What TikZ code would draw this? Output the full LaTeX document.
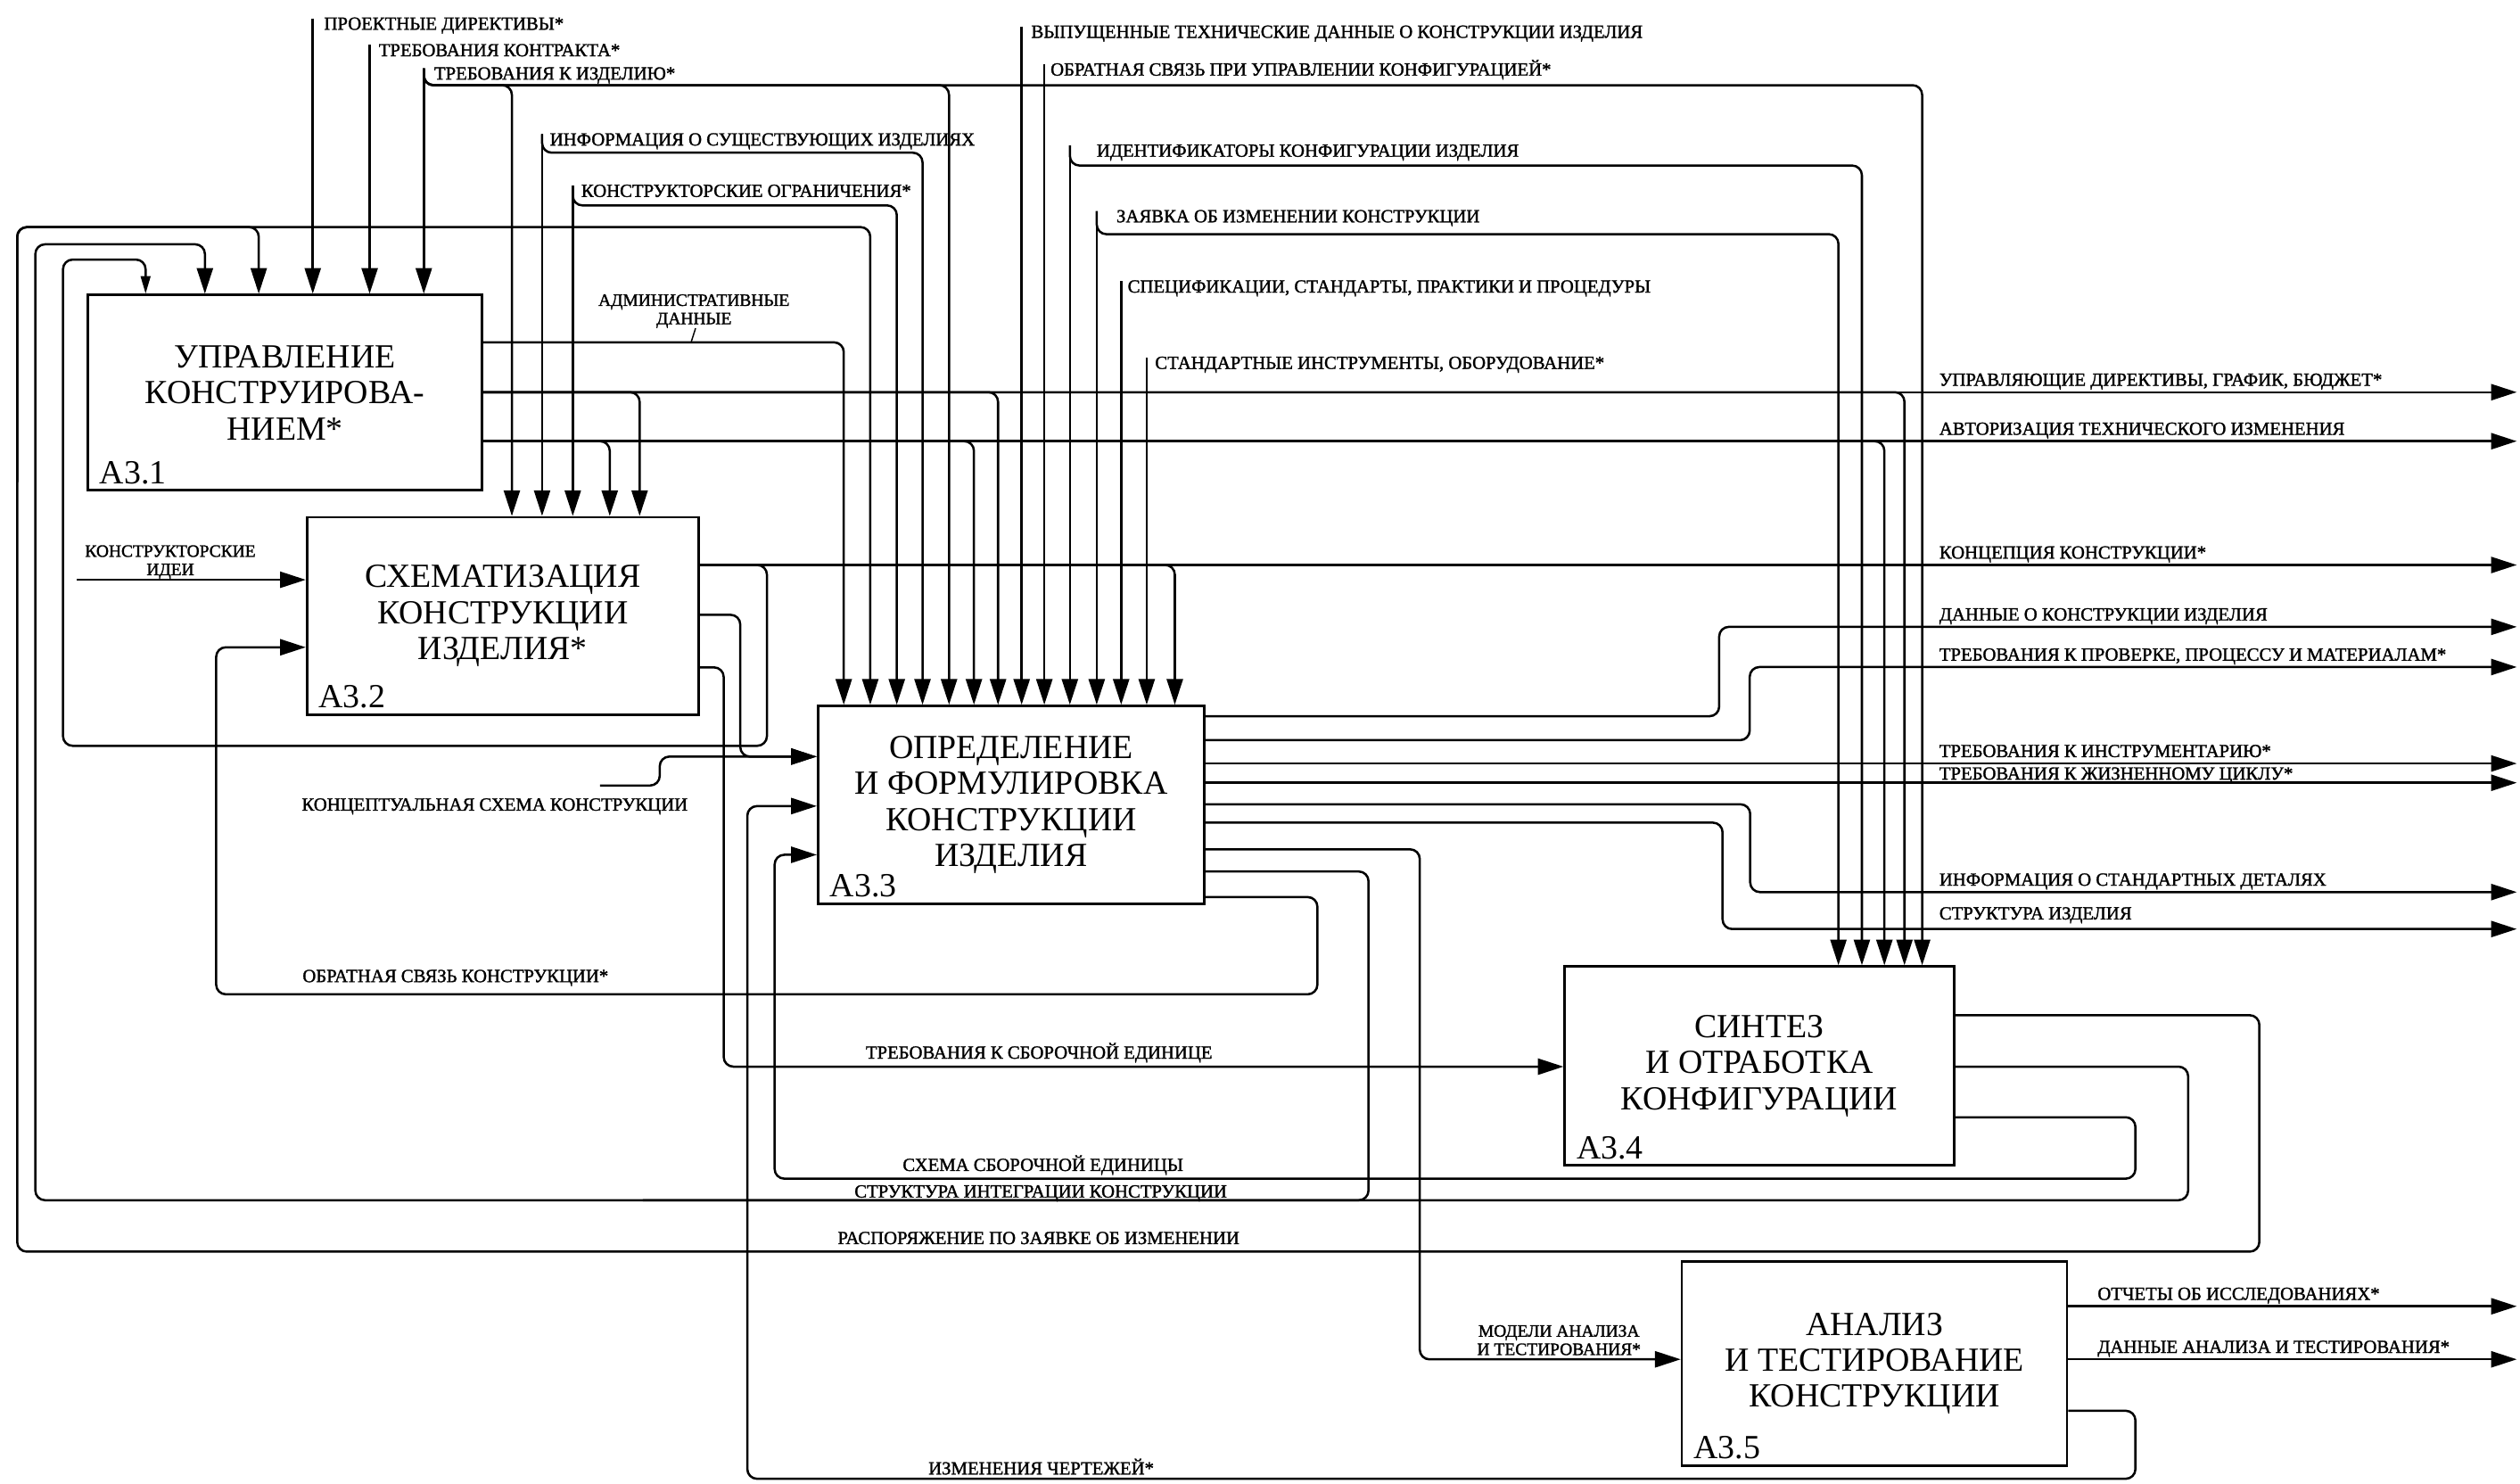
\documentclass[tikz,border=0pt]{standalone}
\usepackage{fontspec}
\setmainfont{Liberation Serif}
\newfontfamily\lblfont[FakeBold=1.5]{Liberation Serif}
\usetikzlibrary{arrows.meta}

\tikzset{
  func/.style={draw, line width=1.5pt, inner sep=0pt, align=center,
    font=\fontsize{21}{22.4}\selectfont},
  fid/.style={anchor=base west, inner sep=0pt, xshift=8pt, yshift=5pt,
    font=\fontsize{21}{22}\selectfont},
  flow/.style={line width=1.4pt, rounded corners=6pt},
  arr/.style={flow, -{Triangle[length=16pt,width=10pt]}},
  sarr/.style={flow, -{Triangle[length=11pt,width=6pt]}},
  lbl/.style={inner sep=0pt, font=\lblfont\fontsize{11.5}{12}\selectfont},
  slbl/.style={inner sep=0pt, align=center, font=\lblfont\fontsize{10.8}{11.4}\selectfont},
  ctl/.style={lbl, anchor=base west, yshift=-7pt},
  rl/.style={lbl, anchor=base west, yshift=4pt},
}

\begin{document}
\begin{tikzpicture}[x=1pt, y=-1pt]
\useasboundingbox (0,0) rectangle (1568,923);
% nodes
\node[func, minimum width=245.4pt, minimum height=121.5pt] (b1) at (177.3,244.25) {УПРАВЛЕНИЕ\\КОНСТРУИРОВА-\\НИЕМ*};
\node[func, minimum width=243.6pt, minimum height=122.8pt] (b2) at (312.8,383.2) {СХЕМАТИЗАЦИЯ\\КОНСТРУКЦИИ\\ИЗДЕЛИЯ*};
\node[func, minimum width=240.3pt, minimum height=123.2pt] (b3) at (629.15,500.8) {ОПРЕДЕЛЕНИЕ\\И ФОРМУЛИРОВКА\\КОНСТРУКЦИИ\\ИЗДЕЛИЯ};
\node[func, minimum width=242.2pt, minimum height=123.7pt] (b4) at (1094.7,663.15) {СИНТЕЗ\\И ОТРАБОТКА\\КОНФИГУРАЦИИ};
\node[func, minimum width=239.7pt, minimum height=126.9pt] (b5) at (1166.35,848.35) {АНАЛИЗ\\И ТЕСТИРОВАНИЕ\\КОНСТРУКЦИИ};
\node[fid] (n1) at (b1.south west) {А3.1};
\node[fid] (n2) at (b2.south west) {А3.2};
\node[fid] (n3) at (b3.south west) {А3.3};
\node[fid] (n4) at (b4.south west) {А3.4};
\node[fid] (n5) at (b5.south west) {А3.5};
\node[slbl, anchor=base] (lAdm) at (431.8,201.7) {АДМИНИСТРАТИВНЫЕ\\ДАННЫЕ};
\node[slbl, anchor=base] (lIdea) at (106,357.8) {КОНСТРУКТОРСКИЕ\\ИДЕИ};
\node[lbl, anchor=base west] (lKS) at (187.6,504.3) {КОНЦЕПТУАЛЬНАЯ СХЕМА КОНСТРУКЦИИ};
\node[slbl, anchor=base] (lMod) at (970,843) {МОДЕЛИ АНАЛИЗА\\И ТЕСТИРОВАНИЯ*};

% arrows from outside
\draw[arr] (194.6,11.5) node[ctl, xshift=6.4pt] (tPD) {ПРОЕКТНЫЕ ДИРЕКТИВЫ*} -- (194.6,0 |- b1.north);
\draw[arr] (230,28) node[ctl, xshift=5pt] (tTK) {ТРЕБОВАНИЯ КОНТРАКТА*} -- (230,0 |- b1.north);
\draw[arr] (263.7,42.5) node[ctl, xshift=5.8pt] (tTI) {ТРЕБОВАНИЯ К ИЗДЕЛИЮ*} -- (263.7,0 |- b1.north);
\draw[arr] (263.7,42.5) -- (263.7,53) -- (318.5,53) -- (318.5,0 |- b2.north);
\draw[arr] (263.7,42.5) -- (263.7,53) -- (590.5,53) -- (590.5,0 |- b3.north);
\draw[arr] (263.7,42.5) -- (263.7,53) -- (1196,53) -- (1196,0 |- b4.north);
\draw[arr] (337.3,83.5) node[ctl, xshift=4.2pt] (tIS) {ИНФОРМАЦИЯ О СУЩЕСТВУЮЩИХ ИЗДЕЛИЯХ} -- (337.3,0 |- b2.north);
\draw[arr] (337.3,83.5) -- (337.3,95) -- (574,95) -- (574,0 |- b3.north);
\draw[arr] (356.4,115.5) node[ctl, xshift=4.6pt] (tKO) {КОНСТРУКТОРСКИЕ ОГРАНИЧЕНИЯ*} -- (356.4,0 |- b2.north);
\draw[arr] (356.4,115.5) -- (356.4,127.8) -- (558,127.8) -- (558,0 |- b3.north);
\draw[arr] (635.7,16.5) node[ctl, xshift=5.3pt] (tVT) {ВЫПУЩЕННЫЕ ТЕХНИЧЕСКИЕ ДАННЫЕ О КОНСТРУКЦИИ ИЗДЕЛИЯ} -- (635.7,0 |- b3.north);
\draw[arr] (649.8,40) node[ctl, xshift=3.2pt] (tOS) {ОБРАТНАЯ СВЯЗЬ ПРИ УПРАВЛЕНИИ КОНФИГУРАЦИЕЙ*} -- (649.8,0 |- b3.north);
\draw[arr] (665.7,90.5) node[ctl, xshift=16pt] (tID) {ИДЕНТИФИКАТОРЫ КОНФИГУРАЦИИ ИЗДЕЛИЯ} -- (665.7,0 |- b3.north);
\draw[arr] (665.7,90.5) -- (665.7,103) -- (1158.5,103) -- (1158.5,0 |- b4.north);
\draw[arr] (682.4,131.3) node[ctl, xshift=11.6pt] (tZI) {ЗАЯВКА ОБ ИЗМЕНЕНИИ КОНСТРУКЦИИ} -- (682.4,0 |- b3.north);
\draw[arr] (682.4,131.3) -- (682.4,145.7) -- (1143.9,145.7) -- (1143.9,0 |- b4.north);
\draw[arr] (697.6,175) node[ctl, xshift=3.4pt] (tSP) {СПЕЦИФИКАЦИИ, СТАНДАРТЫ, ПРАКТИКИ И ПРОЦЕДУРЫ} -- (697.6,0 |- b3.north);
\draw[arr] (713.5,222.5) node[ctl, xshift=4.5pt] (tSI) {СТАНДАРТНЫЕ ИНСТРУМЕНТЫ, ОБОРУДОВАНИЕ*} -- (713.5,0 |- b3.north);
\draw[arr] (47.8,360.7) -- (b2.west |- 0,360.7);
\draw[arr] (373.4,488.7) -- (410.5,488.7) -- (410.5,470.7) -- (b3.west |- 0,470.7);

% A3.1 outputs
\draw[arr] (b1.east |- 0,213) -- (525,213) -- (525,0 |- b3.north);
\draw[line width=0.8pt] (lAdm.south) ++(1,0) -- (430,213);
\draw[arr] (b1.east |- 0,244) -- (1206,244) node[rl] (oUD) {УПРАВЛЯЮЩИЕ ДИРЕКТИВЫ, ГРАФИК, БЮДЖЕТ*} -- (1566,244);
\draw[arr] (b1.east |- 0,244) -- (398,244) -- (398,0 |- b2.north);
\draw[arr] (b1.east |- 0,244) -- (621,244) -- (621,0 |- b3.north);
\draw[arr] (b1.east |- 0,244) -- (1185,244) -- (1185,0 |- b4.north);
\draw[arr] (b1.east |- 0,274.5) -- (1206,274.5) node[rl] (oAT) {АВТОРИЗАЦИЯ ТЕХНИЧЕСКОГО ИЗМЕНЕНИЯ} -- (1566,274.5);
\draw[arr] (b1.east |- 0,274.5) -- (379.4,274.5) -- (379.4,0 |- b2.north);
\draw[arr] (b1.east |- 0,274.5) -- (606,274.5) -- (606,0 |- b3.north);
\draw[arr] (b1.east |- 0,274.5) -- (1172.5,274.5) -- (1172.5,0 |- b4.north);

% A3.2 outputs
\draw[arr] (b2.east |- 0,351.5) -- (1206,351.5) node[rl] (oKK) {КОНЦЕПЦИЯ КОНСТРУКЦИИ*} -- (1566,351.5);
\draw[arr] (b2.east |- 0,351.5) -- (731,351.5) -- (731,0 |- b3.north);
\draw[sarr] (b2.east |- 0,351.5) -- (477.2,351.5) -- (477.2,464) -- (39.2,464) -- (39.2,161.5) -- (90.6,161.5) -- (90.6,0 |- b1.north);
\draw[arr] (b2.east |- 0,382.5) -- (460.6,382.5) -- (460.6,470.7) -- (b3.west |- 0,470.7);
\draw[arr] (b2.east |- 0,415.2) -- (450.3,415.2) -- (450.3,663.6) -- (538,663.6) node[rl, yshift=1pt] (oTS) {ТРЕБОВАНИЯ К СБОРОЧНОЙ ЕДИНИЦЕ} -- (b4.west |- 0,663.6);

% A3.3 outputs
\draw[arr] (b3.east |- 0,445.6) -- (1069.7,445.6) -- (1069.7,390) -- (1206,390) node[rl] (oDK) {ДАННЫЕ О КОНСТРУКЦИИ ИЗДЕЛИЯ} -- (1566,390);
\draw[arr] (b3.east |- 0,460.5) -- (1088.7,460.5) -- (1088.7,415) -- (1206,415) node[rl] (oTP) {ТРЕБОВАНИЯ К ПРОВЕРКЕ, ПРОЦЕССУ И МАТЕРИАЛАМ*} -- (1566,415);
\draw[arr] (b3.east |- 0,475) -- (1206,475) node[rl] (oTN) {ТРЕБОВАНИЯ К ИНСТРУМЕНТАРИЮ*} -- (1566,475);
\draw[arr] (b3.east |- 0,487) -- (1206,487) node[rl, yshift=-2pt] (oTZ) {ТРЕБОВАНИЯ К ЖИЗНЕННОМУ ЦИКЛУ*} -- (1566,487);
\draw[arr] (b3.east |- 0,500.4) -- (1089,500.4) -- (1089,555) -- (1206,555) node[rl] (oSD) {ИНФОРМАЦИЯ О СТАНДАРТНЫХ ДЕТАЛЯХ} -- (1566,555);
\draw[arr] (b3.east |- 0,511.8) -- (1071.8,511.8) -- (1071.8,578) -- (1206,578) node[rl, yshift=2pt] (oSI) {СТРУКТУРА ИЗДЕЛИЯ} -- (1566,578);
\draw[arr] (b3.east |- 0,528.4) -- (883.4,528.4) -- (883.4,845.7) -- (b5.west |- 0,845.7);
\draw[arr] (b3.east |- 0,542.2) -- (851.5,542.2) -- (851.5,746.7) -- (22,746.7) -- (22,152) -- (127.5,152) -- (127.5,0 |- b1.north);
\draw[arr] (b3.east |- 0,558.1) -- (819.7,558.1) -- (819.7,618.6) -- (187.6,618.6) node[rl, yshift=3.6pt] (oOK) {ОБРАТНАЯ СВЯЗЬ КОНСТРУКЦИИ*} -- (134.5,618.6) -- (134.5,402.7) -- (b2.west |- 0,402.7);

% A3.4 outputs
\draw[arr] (b4.east |- 0,631.6) -- (1405.8,631.6) -- (1405.8,778.7) -- (520.6,778.7) node[rl, yshift=0.7pt] (oRZ) {РАСПОРЯЖЕНИЕ ПО ЗАЯВКЕ ОБ ИЗМЕНЕНИИ} -- (10.7,778.7) -- (10.7,141.3) -- (161,141.3) -- (161,0 |- b1.north);
\draw[arr] (10.7,300) -- (10.7,141.3) -- (541.5,141.3) -- (541.5,0 |- b3.north);
\draw[flow] (b4.east |- 0,663.6) -- (1361.5,663.6) -- (1361.5,746.7) -- (531,746.7) node[rl, yshift=-2.3pt] (oSK) {СТРУКТУРА ИНТЕГРАЦИИ КОНСТРУКЦИИ} -- (400,746.7);
\draw[arr] (b4.east |- 0,695.1) -- (1328.7,695.1) -- (1328.7,733.3) -- (561,733.3) node[rl, yshift=0.8pt] (oSS) {СХЕМА СБОРОЧНОЙ ЕДИНИЦЫ} -- (482,733.3) -- (482,531.8) -- (b3.west |- 0,531.8);

% A3.5 outputs
\draw[arr] (b5.east |- 0,812.7) -- (1304.5,812.7) node[rl] (oOI) {ОТЧЕТЫ ОБ ИССЛЕДОВАНИЯХ*} -- (1566,812.7);
\draw[arr] (b5.east |- 0,845.7) -- (1304.5,845.7) node[rl] (oDA) {ДАННЫЕ АНАЛИЗА И ТЕСТИРОВАНИЯ*} -- (1566,845.7);
\draw[arr] (b5.east |- 0,877.7) -- (1328.7,877.7) -- (1328.7,920) -- (577,920) node[rl, yshift=-1.3pt] (oIC) {ИЗМЕНЕНИЯ ЧЕРТЕЖЕЙ*} -- (465,920) -- (465,501.5) -- (b3.west |- 0,501.5);
\end{tikzpicture}
\end{document}
